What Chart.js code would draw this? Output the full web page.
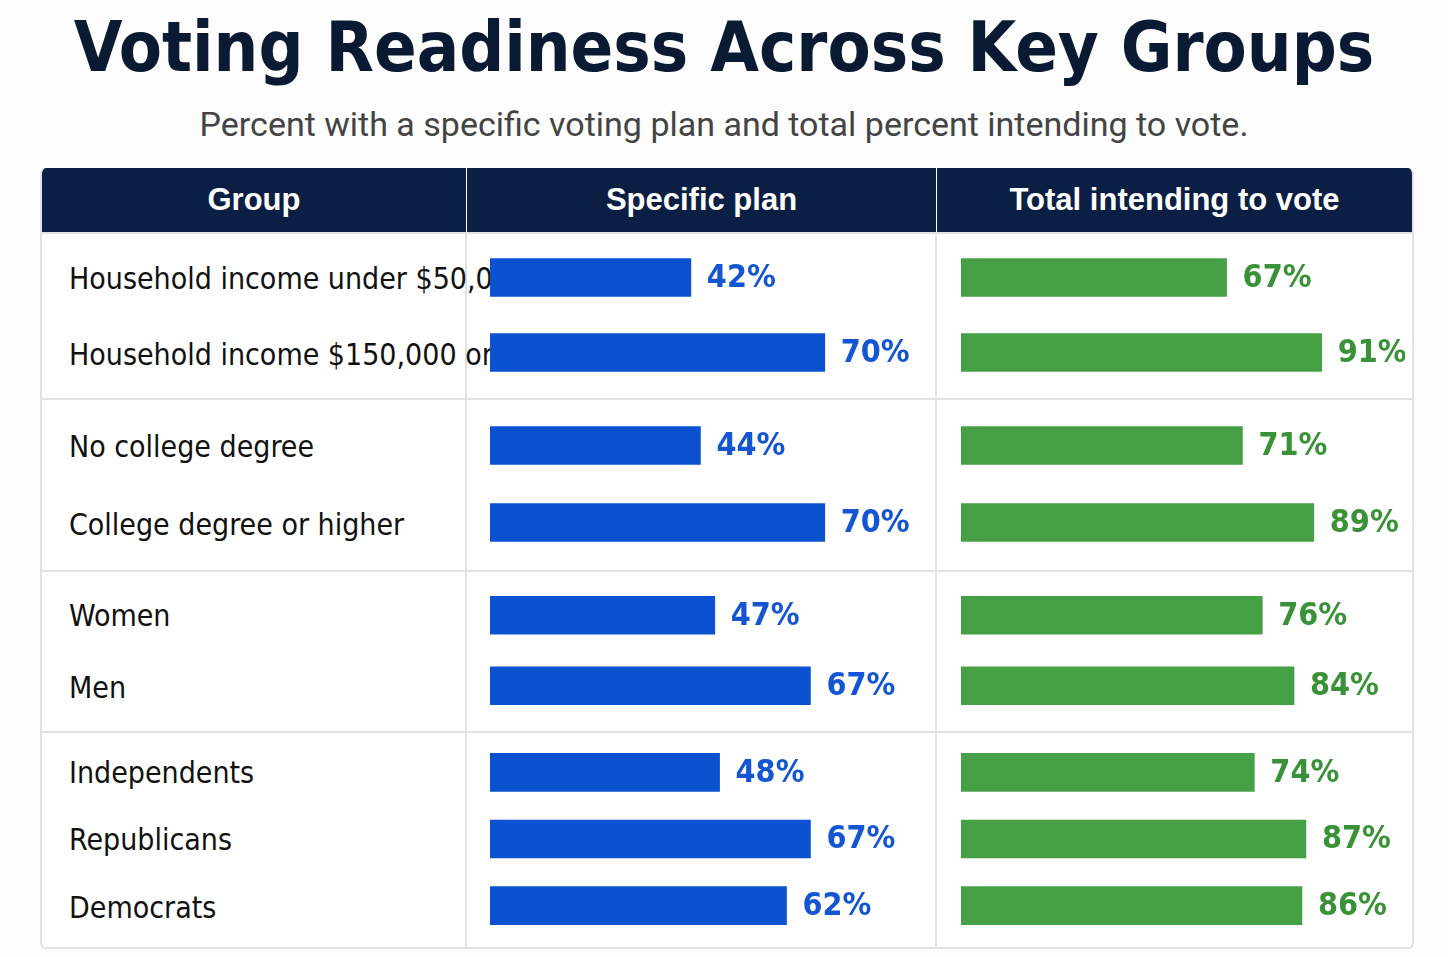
<!DOCTYPE html>
<html>
<head>
<meta charset="utf-8">
<script src="https://cdn.jsdelivr.net/npm/chart.js@4"></script>
<style>
  body { margin: 0; background: #fdfdfd; font-family: "Liberation Sans Narrow", "DejaVu Sans Condensed", sans-serif; }
  h1 { margin: 0; position: absolute; top: 6px; width: 1448px; text-align: center; font: bold 70px "Liberation Sans Narrow", "DejaVu Sans Condensed", sans-serif; color: #0b1a33; }
  .sub { position: absolute; top: 104px; width: 1448px; text-align: center; font: 34px "Liberation Sans Narrow", "Roboto", sans-serif; color: #444; }
  #table { position: absolute; left: 40px; top: 168px; width: 1370px; border: 2px solid #e2e2e2; border-top: none; border-radius: 6px; overflow: hidden; background: #fff; }
  .row { display: grid; grid-template-columns: 425px 470px 475px; }
  .head { background: #0b1f44; color: #fff; height: 64px; font: bold 31px "Liberation Sans Narrow", sans-serif; }
  .head div { display: flex; align-items: center; justify-content: center; border-right: 1px solid #fff; }
  .grp { border-top: 2px solid #e2e2e2; }
  .grp > div { border-right: 2px solid #e2e2e2; box-sizing: border-box; position: relative; }
  .grp > div:last-child, .head div:last-child { border-right: none; }
  .labels { display: flex; flex-direction: column; box-sizing: border-box; padding-left: 27px; }
  .labels span { display: flex; align-items: center; font-size: 30px; color: #111; white-space: nowrap; }
  canvas { display: block; }
</style>
</head>
<body>
<h1>Voting Readiness Across Key Groups</h1>
<div class="sub">Percent with a specific voting plan and total percent intending to vote.</div>
<div id="table">
  <div class="row head"><div>Group</div><div>Specific plan</div><div>Total intending to vote</div></div>
</div>
<script>
const categories = ['Household income under $50,000', 'Household income $150,000 or more',
  'No college degree', 'College degree or higher', 'Women', 'Men',
  'Independents', 'Republicans', 'Democrats'];
const groupSizes = [2, 2, 2, 3];
const specificPlan = [42, 70, 44, 70, 47, 67, 48, 67, 62];
const totalIntending = [67, 91, 71, 89, 76, 84, 74, 87, 86];

const groupHeights = [164, 170, 159, 214];
const groupPads = [6, 7, 8, 6];

const valueLabels = {
  id: 'valueLabels',
  afterDatasetsDraw(chart, args, opts) {
    const ctx = chart.ctx;
    const meta = chart.getDatasetMeta(0);
    ctx.save();
    ctx.fillStyle = opts.color;
    ctx.font = 'bold 32px "Liberation Sans Narrow", "DejaVu Sans Condensed", sans-serif';
    ctx.textBaseline = 'middle';
    meta.data.forEach((bar, i) => {
      ctx.fillText(chart.data.datasets[0].data[i] + '%', bar.x + 16, bar.y + 1);
    });
    ctx.restore();
  }
};

function makeChart(cell, labels, values, color, textColor, max, width, height, pad, left) {
  const c = document.createElement('canvas');
  c.style.width = width + 'px'; c.style.height = height + 'px';
  c.width = width; c.height = height;
  c.style.marginLeft = left + 'px';
  cell.appendChild(c);
  new Chart(c, {
    type: 'bar',
    data: { labels: labels, datasets: [{ data: values, backgroundColor: color, barThickness: 38 }] },
    options: {
      indexAxis: 'y', responsive: false, animation: false,
      layout: { padding: { top: pad, bottom: pad, left: 0, right: 0 } },
      scales: {
        x: { display: false, min: 0, max: max },
        y: { display: false, offset: true }
      },
      plugins: { legend: { display: false }, tooltip: { enabled: false }, valueLabels: { color: textColor } }
    },
    plugins: [valueLabels]
  });
}

const table = document.getElementById('table');
let start = 0;
groupSizes.forEach((n, g) => {
  const H = groupHeights[g], pad = groupPads[g];
  const labels = categories.slice(start, start + n);
  const row = document.createElement('div');
  row.className = 'row grp';
  row.style.height = H + 'px';
  const lc = document.createElement('div');
  lc.className = 'labels';
  lc.style.paddingTop = pad + 'px';
  labels.forEach(l => {
    const s = document.createElement('span');
    s.textContent = l;
    s.style.height = ((H - 2 * pad) / n) + 'px';
    lc.appendChild(s);
  });
  const sc = document.createElement('div');
  const tc = document.createElement('div');
  row.append(lc, sc, tc);
  table.appendChild(row);
  makeChart(sc, labels, specificPlan.slice(start, start + n), '#0a52d0', '#1456d2', 92, 440, H - 2, pad, 23);
  makeChart(tc, labels, totalIntending.slice(start, start + n), '#46a046', '#3a9238', 112, 444, H - 2, pad, 24);
  start += n;
});
</script>
</body>
</html>
